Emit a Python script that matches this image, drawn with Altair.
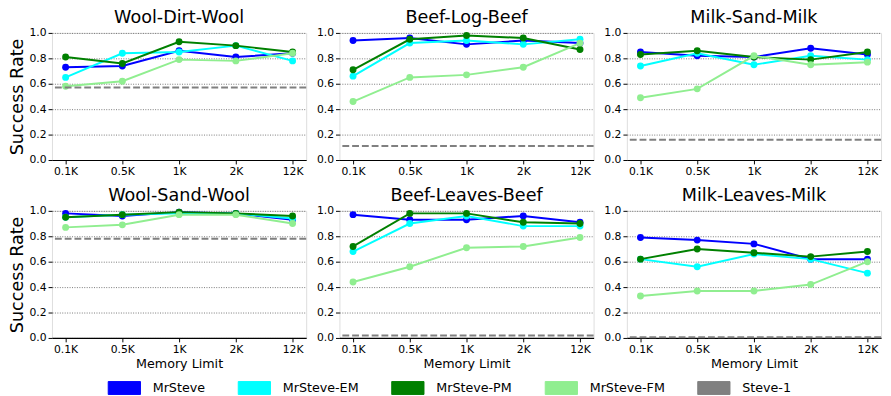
import altair as alt
import pandas as pd

mems = ["0.1K", "0.5K", "1K", "2K", "12K"]
models = ["MrSteve", "MrSteve-EM", "MrSteve-PM", "MrSteve-FM", "Steve-1"]
colors = ["#0000ff", "#00ffff", "#008000", "#90ee90", "#808080"]
tasks = ["Wool-Dirt-Wool", "Beef-Log-Beef", "Milk-Sand-Milk",
         "Wool-Sand-Wool", "Beef-Leaves-Beef", "Milk-Leaves-Milk"]

mrsteve = [
    [0.73, 0.74, 0.86, 0.81, 0.84],
    [0.94, 0.96, 0.91, 0.94, 0.92],
    [0.85, 0.82, 0.81, 0.88, 0.83],
    [0.98, 0.96, 0.99, 0.98, 0.93],
    [0.97, 0.93, 0.93, 0.96, 0.91],
    [0.79, 0.77, 0.74, 0.62, 0.62],
]
mrsteve_em = [
    [0.65, 0.84, 0.85, 0.90, 0.78],
    [0.66, 0.92, 0.94, 0.91, 0.95],
    [0.74, 0.84, 0.75, 0.82, 0.79],
    [0.95, 0.97, 0.98, 0.98, 0.94],
    [0.68, 0.90, 0.96, 0.88, 0.88],
    [0.62, 0.56, 0.66, 0.62, 0.51],
]
mrsteve_pm = [
    [0.81, 0.76, 0.93, 0.90, 0.85],
    [0.71, 0.95, 0.98, 0.96, 0.87],
    [0.83, 0.86, 0.81, 0.79, 0.85],
    [0.95, 0.97, 0.99, 0.98, 0.96],
    [0.72, 0.98, 0.98, 0.91, 0.90],
    [0.62, 0.70, 0.67, 0.64, 0.68],
]
mrsteve_fm = [
    [0.58, 0.62, 0.79, 0.78, 0.84],
    [0.46, 0.65, 0.67, 0.73, 0.92],
    [0.49, 0.56, 0.82, 0.75, 0.77],
    [0.87, 0.89, 0.97, 0.97, 0.90],
    [0.44, 0.56, 0.71, 0.72, 0.79],
    [0.33, 0.37, 0.37, 0.42, 0.60],
]
steve1 = [0.57, 0.11, 0.16, 0.78, 0.02, 0.005]

series = {"MrSteve": mrsteve, "MrSteve-EM": mrsteve_em,
          "MrSteve-PM": mrsteve_pm, "MrSteve-FM": mrsteve_fm}

rows = []
for ti, t in enumerate(tasks):
    for m, vals in series.items():
        for mi, mem in enumerate(mems):
            rows.append({"task": t, "model": m, "mem": mem, "val": vals[ti][mi]})
df = pd.DataFrame(rows)
sdf = pd.DataFrame({"task": tasks, "model": "Steve-1", "val": steve1})

FONT = "DejaVu Sans"
color_scale = alt.Scale(domain=models, range=colors)
legend = alt.Legend(
    orient="none", direction="horizontal", title=None,
    legendX=57, legendY=346,
    symbolType="M-1,-0.4H1V0.4H-1Z", symbolSize=1089,
    symbolStrokeColor="black", symbolStrokeWidth=1, symbolOpacity=1,
    labelFont=FONT, labelFontSize=13, labelColor="black",
    labelOffset=12, columnPadding=31,
)


def panel(i):
    t = tasks[i]
    left = (i % 3 == 0)
    bottom = (i >= 3)
    xax = alt.Axis(title="Memory Limit" if bottom else None, labelAngle=0,
                   labelFont=FONT, labelFontSize=11, labelColor="black",
                   titleFont=FONT, titleFontSize=13, titleFontWeight="normal",
                   titleColor="black", titlePadding=3,
                   domainColor="black", domainWidth=1.2, tickColor="black",
                   tickSize=4, labelPadding=2, grid=False)
    yax = alt.Axis(title="Success Rate" if left else None,
                   values=[0, 0.2, 0.4, 0.6, 0.8, 1.0], format=".1f",
                   labelOverlap=False,
                   labelFont=FONT, labelFontSize=11, labelColor="black",
                   titleFont=FONT, titleFontSize=18, titleFontWeight="normal",
                   titleColor="black", titlePadding=3,
                   domain=False, tickColor="black", tickSize=4, labelPadding=2,
                   grid=True, gridColor="#555555", gridDash=[1, 1.5],
                   gridWidth=0.8)
    x = alt.X("mem:N", sort=mems, scale=alt.Scale(type="point", padding=0.24),
              axis=xax)
    y = alt.Y("val:Q", scale=alt.Scale(domain=[0, 1], nice=False), axis=yax)
    col = alt.Color("model:N", scale=color_scale, legend=legend)
    layers = []
    sub = df[df.task == t]
    for m in models[:4]:
        d = sub[sub.model == m]
        base = alt.Chart(d)
        layers.append(base.mark_line(strokeWidth=2).encode(x=x, y=y, color=col))
        layers.append(base.mark_circle(size=50, opacity=1).encode(x=x, y=y, color=col))
    rule = alt.Chart(sdf[sdf.task == t]).mark_rule(
        strokeDash=[7, 3], strokeWidth=2).encode(y=y, color=col)
    layers.append(rule)
    return alt.layer(*layers).properties(
        width=260, height=130,
        title=alt.TitleParams(t, font=FONT, fontSize=18, fontWeight="normal",
                              color="black", offset=0))


row1 = alt.hconcat(panel(0), panel(1), panel(2), spacing=8)
row2 = alt.hconcat(panel(3), panel(4), panel(5), spacing=8)
chart = alt.vconcat(row1, row2, spacing=9).properties(
    padding={"left": 0, "top": -4, "right": 0, "bottom": 0}
).configure_view(stroke=None).configure(background="white")

chart.save("out.html", embed_options={"renderer": "svg", "actions": False})
